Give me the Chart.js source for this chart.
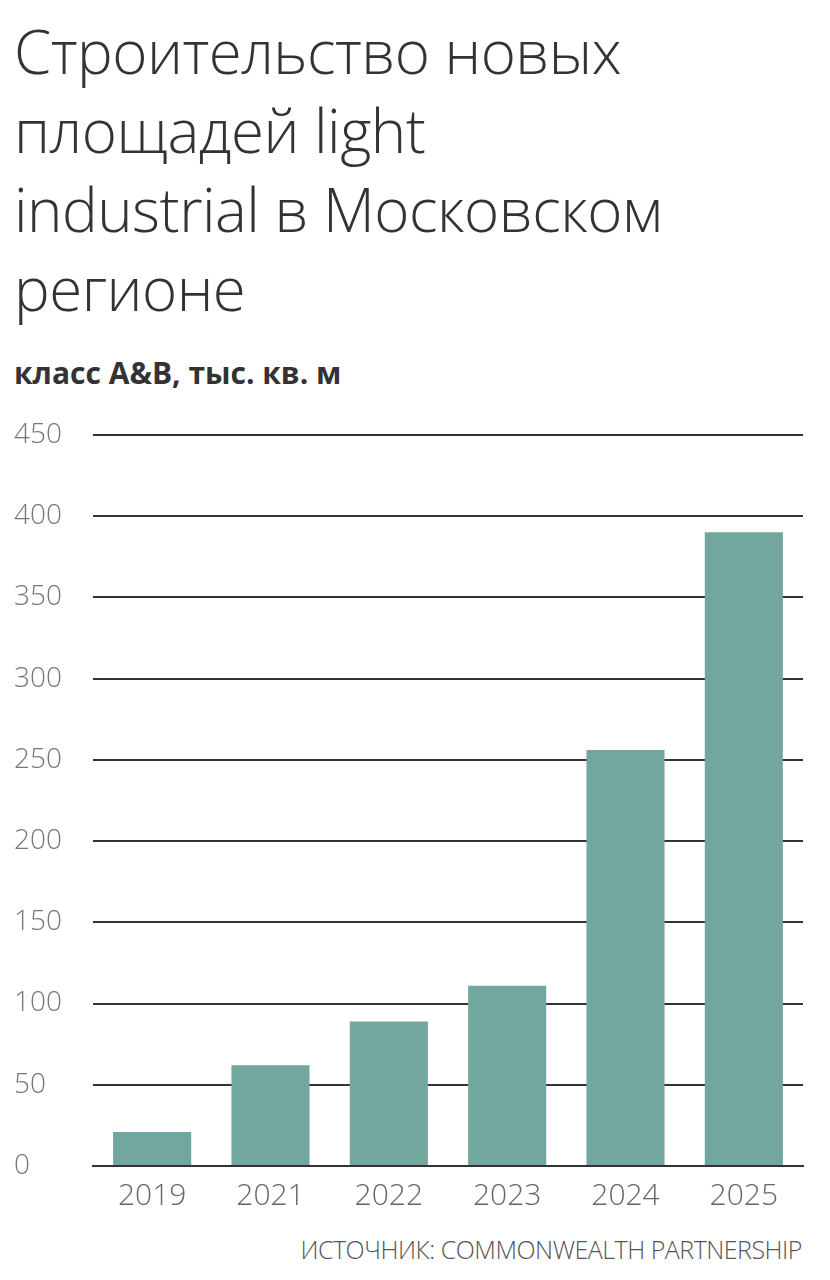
<!DOCTYPE html>
<html>
<head>
<meta charset="utf-8">
<script src="https://cdn.jsdelivr.net/npm/chart.js@4"></script>
<style>
  body { margin: 0; background: #fff; width: 830px; height: 1280px; overflow: hidden; font-family: "Open Sans", sans-serif; }
  #title { position: absolute; left: 14px; top: 12px; font-size: 60px; font-weight: 300; line-height: 79px; color: #333; letter-spacing: -0.5px; }
  #sub { position: absolute; left: 14px; top: 352px; font-size: 30px; font-weight: 700; color: #333; }
  #box { position: absolute; left: 0; top: 400px; width: 830px; height: 830px; }
  #src { position: absolute; right: 28px; top: 1232px; font-size: 25px; font-weight: 300; color: #555; letter-spacing: -0.5px; }
</style>
</head>
<body>
<div id="title">Строительство новых<br>площадей light<br>industrial в Московском<br>регионе</div>
<div id="sub">класс A&amp;B, тыс. кв. м</div>
<div id="box"><canvas id="chart"></canvas></div>
<div id="src">ИСТОЧНИК: COMMONWEALTH PARTNERSHIP</div>
<script>
const years = ["2019", "2021", "2022", "2023", "2024", "2025"];
const values = [21, 62, 89, 111, 256, 390];
const yTicks = [0, 50, 100, 150, 200, 250, 300, 350, 400, 450];

const ctx = document.getElementById("chart").getContext("2d");
new Chart(ctx, {
  type: "bar",
  data: {
    labels: years,
    datasets: [{ data: values, backgroundColor: "#72a7a0", barPercentage: 0.66, categoryPercentage: 1 }]
  },
  options: {
    responsive: true,
    maintainAspectRatio: false,
    animation: false,
    layout: { padding: { top: 14, right: 27, bottom: 12, left: 14 } },
    plugins: { legend: { display: false }, tooltip: { enabled: false } },
    scales: {
      x: {
        grid: { display: false },
        border: { color: "#333", width: 2 },
        ticks: { color: "#666", font: { family: "Open Sans", size: 30, weight: 300 }, padding: 4 }
      },
      y: {
        min: 0, max: 450,
        afterBuildTicks: axis => { axis.ticks = yTicks.map(v => ({ value: v })); },
        afterFit: axis => { axis.width = 79; },
        grid: { color: "#333", lineWidth: 2, drawTicks: false },
        border: { display: false },
        ticks: { color: "#777", font: { family: "Open Sans", size: 28, weight: 300 }, padding: 18, crossAlign: "far" }
      }
    }
  }
});
</script>
</body>
</html>
